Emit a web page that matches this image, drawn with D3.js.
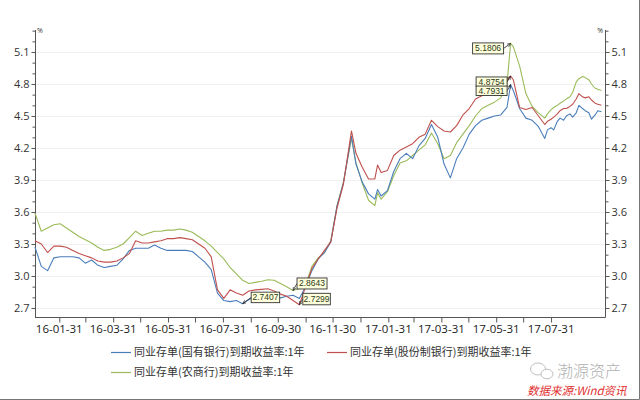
<!DOCTYPE html>
<html><head><meta charset="utf-8">
<script src="https://cdn.jsdelivr.net/npm/d3@7"></script>
<style>
html,body{margin:0;padding:0;background:#fff;}
svg{display:block;font-family:"Open Sans","Noto Sans","Noto Sans CJK SC",sans-serif;}
</style></head><body>
<svg id="chart" width="640" height="400"></svg>
<script>
// ---------- data ----------
const dates = [
"2016-01-04","2016-01-11","2016-01-18","2016-01-25","2016-02-01","2016-02-08","2016-02-15","2016-02-22","2016-02-29","2016-03-07",
"2016-03-14","2016-03-21","2016-03-28","2016-04-04","2016-04-11","2016-04-18","2016-04-25","2016-05-02","2016-05-09","2016-05-16",
"2016-05-23","2016-05-30","2016-06-06","2016-06-13","2016-06-20","2016-06-27","2016-07-04","2016-07-11","2016-07-18","2016-07-25",
"2016-08-01","2016-08-08","2016-08-15","2016-08-22","2016-08-29","2016-09-05","2016-09-12","2016-09-19","2016-09-26","2016-10-03",
"2016-10-10","2016-10-17","2016-10-24","2016-10-31","2016-11-07","2016-11-14","2016-11-21","2016-11-28","2016-12-05","2016-12-12",
"2016-12-21","2016-12-26","2017-01-02","2017-01-09","2017-01-16","2017-01-19","2017-01-23","2017-01-30","2017-02-06","2017-02-13",
"2017-02-20","2017-02-27","2017-03-06","2017-03-13","2017-03-20","2017-03-27","2017-04-03","2017-04-10","2017-04-17","2017-04-24",
"2017-05-01","2017-05-08","2017-05-15","2017-05-22","2017-05-29","2017-06-05","2017-06-12","2017-06-16","2017-06-19","2017-06-26",
"2017-07-03","2017-07-10","2017-07-17","2017-07-24","2017-07-27","2017-07-31","2017-08-03","2017-08-07","2017-08-10","2017-08-14",
"2017-08-17","2017-08-21","2017-08-24","2017-08-28","2017-08-31","2017-09-04","2017-09-07","2017-09-11","2017-09-14","2017-09-18",
"2017-09-21","2017-09-25"];
const greenVals = [
3.59,3.42,3.45,3.48,3.49,3.45,3.41,3.37,3.34,3.31,
3.27,3.24,3.25,3.27,3.30,3.36,3.42,3.38,3.40,3.42,
3.42,3.43,3.43,3.44,3.43,3.41,3.37,3.33,3.28,3.22,
3.16,3.08,3.02,2.96,2.93,2.94,2.95,2.965,2.96,2.93,
2.90,2.8643,2.88,2.92,3.09,3.17,3.22,3.33,3.66,3.88,
4.29,4.06,3.87,3.71,3.66,3.78,3.72,3.79,3.94,4.06,
4.08,4.13,4.18,4.23,4.34,4.24,4.10,4.13,4.25,4.33,
4.41,4.50,4.57,4.60,4.63,4.67,4.80,5.1806,5.15,4.97,
4.71,4.59,4.53,4.48,4.52,4.56,4.58,4.60,4.62,4.64,
4.66,4.68,4.72,4.82,4.85,4.87,4.86,4.84,4.80,4.76,
4.75,4.74];
const redVals = [
3.33,3.30,3.22,3.28,3.28,3.27,3.24,3.21,3.19,3.17,
3.14,3.13,3.13,3.14,3.17,3.21,3.33,3.31,3.31,3.32,
3.33,3.35,3.35,3.36,3.35,3.34,3.30,3.26,3.18,2.87,
2.79,2.87,2.84,2.82,2.86,2.87,2.875,2.88,2.86,2.83,
2.81,2.77,2.7299,2.90,3.07,3.16,3.24,3.32,3.64,3.86,
4.36,4.15,4.02,3.91,3.91,4.04,3.97,3.99,4.13,4.18,
4.21,4.24,4.30,4.33,4.46,4.40,4.36,4.35,4.41,4.51,
4.57,4.66,4.69,4.71,4.76,4.79,4.83,4.8754,4.84,4.58,
4.56,4.58,4.50,4.42,4.45,4.47,4.49,4.52,4.55,4.57,
4.57,4.59,4.61,4.66,4.71,4.68,4.67,4.68,4.65,4.62,
4.61,4.60];
const blueVals = [
3.27,3.09,3.05,3.17,3.18,3.18,3.18,3.17,3.12,3.15,
3.10,3.08,3.09,3.10,3.16,3.24,3.26,3.26,3.26,3.29,
3.26,3.24,3.24,3.24,3.24,3.23,3.18,3.13,3.06,2.84,
2.77,2.76,2.77,2.7407,2.78,2.81,2.82,2.815,2.80,2.795,
2.81,2.82,2.79,2.90,3.05,3.16,3.22,3.32,3.66,3.87,
4.31,4.05,3.88,3.77,3.72,3.81,3.75,3.80,3.98,4.10,
4.15,4.10,4.22,4.29,4.42,4.30,4.05,3.92,4.10,4.20,
4.33,4.41,4.46,4.48,4.50,4.51,4.58,4.7931,4.74,4.57,
4.48,4.46,4.40,4.29,4.37,4.39,4.37,4.45,4.48,4.46,
4.50,4.52,4.49,4.53,4.60,4.57,4.55,4.53,4.47,4.51,
4.55,4.54];
const seriesNames = ["同业存单(国有银行)到期收益率:1年","同业存单(股份制银行)到期收益率:1年","同业存单(农商行)到期收益率:1年"];
const yTickLabels = ["2.7","3.0","3.3","3.6","3.9","4.2","4.5","4.8","5.1"];
const xTickLabels = ["16-01-31","16-03-31","16-05-31","16-07-31","16-09-30","16-11-30","17-01-31","17-03-31","17-05-31","17-07-31"];
const annoDates = ["2017-06-16","2017-06-16","2017-06-16","2016-10-17","2016-08-22","2016-10-24"];
const annoValues = [5.1806,4.8754,4.7931,2.8643,2.7407,2.7299];
const annoSeries = [2,1,0,2,0,1];

// ---------- layout / style ----------
const colors = ["#4a7ebb","#c0504d","#9bbb59"];
const L = 35, R = 605, T = 30, B = 317;
const parse = d3.timeParse("%Y-%m-%d");
const svg = d3.select("#chart");

const x = d3.scaleTime().domain([parse("2016-01-04"), parse("2017-09-29")]).range([L, R]);
const y = d3.scaleLinear().domain([2.6156, 5.3063]).range([B, T]);

const series = [blueVals, redVals, greenVals].map((vals, i) => ({
  name: seriesNames[i], color: colors[i],
  pts: vals.map((v, j) => ({d: parse(dates[j]), v}))
}));

// grid
const yMajor = yTickLabels.map(Number);
svg.append("g").selectAll("line").data(yMajor).join("line")
  .attr("x1", L).attr("x2", R)
  .attr("y1", d => Math.round(y(d)) + 0.5).attr("y2", d => Math.round(y(d)) + 0.5)
  .attr("stroke", "#f0f0f0");

// axes
const fmt = d3.format(".1f");
const minorVals = d3.range(27, 54).map(v => v / 10).filter(v => !yMajor.some(m => Math.abs(m - v) < 1e-6));
const axL = svg.append("g").attr("transform", `translate(${L + 0.5},0)`)
  .call(d3.axisLeft(y).tickValues(yMajor).tickFormat(fmt).tickSize(4).tickPadding(2));
const axR = svg.append("g").attr("transform", `translate(${R + 0.5},0)`)
  .call(d3.axisRight(y).tickValues(yMajor).tickFormat(fmt).tickSize(4).tickPadding(2));
const axLm = svg.append("g").attr("transform", `translate(${L + 0.5},0)`)
  .call(d3.axisLeft(y).tickValues(minorVals).tickFormat("").tickSize(3));
const axRm = svg.append("g").attr("transform", `translate(${R + 0.5},0)`)
  .call(d3.axisRight(y).tickValues(minorVals).tickFormat("").tickSize(3));

const monthEnds = d3.timeMonth.range(new Date(2016, 1, 1), new Date(2017, 8, 1)).map(d => d3.timeDay.offset(d, -1));
const axB = svg.append("g").attr("transform", `translate(0,${B + 0.5})`)
  .call(d3.axisBottom(x).tickValues(monthEnds).tickFormat("").tickSize(5));
const labelDates = xTickLabels.map(s => d3.timeParse("%y-%m-%d")(s));
svg.append("g").selectAll("text").data(labelDates).join("text")
  .attr("x", d => x(d)).attr("y", B + 16)
  .attr("text-anchor", "middle").attr("font-size", 11.5).attr("fill", "#222")
  .text((d, i) => xTickLabels[i]);

[axL, axR, axLm, axRm, axB].forEach(g => {
  g.select(".domain").attr("stroke", "#555");
  g.selectAll(".tick line").attr("stroke", "#555");
  g.selectAll("text").attr("font-size", 11).attr("fill", "#333")
    .attr("font-family", "'Open Sans','Noto Sans',sans-serif");
});
axL.select(".domain").attr("d", `M0,${T}V${B + 0.5}`);
axR.select(".domain").attr("d", `M0,${T}V${B + 0.5}`);
axLm.select(".domain").remove();
axRm.select(".domain").remove();
axB.select(".domain").attr("d", `M${L},0H${R + 0.5}`);

svg.append("text").attr("x", L + 2).attr("y", T + 3).attr("font-size", 7).attr("fill", "#333").text("%");
svg.append("text").attr("x", R - 2).attr("y", T + 3).attr("text-anchor", "end").attr("font-size", 7).attr("fill", "#333").text("%");

// lines
const line = d3.line().x(p => x(p.d)).y(p => y(p.v));
const drawOrder = [2, 0, 1];
svg.append("g").selectAll("path").data(drawOrder.map(i => series[i])).join("path")
  .attr("d", s => line(s.pts)).attr("fill", "none")
  .attr("stroke", s => s.color).attr("stroke-width", 1.1).attr("stroke-linejoin", "round");

// annotations
const defs = svg.append("defs");
defs.append("marker").attr("id", "arr").attr("viewBox", "0 0 6 6").attr("refX", 5.5).attr("refY", 3)
  .attr("markerWidth", 5).attr("markerHeight", 5).attr("orient", "auto")
  .append("path").attr("d", "M0,0.5L5.5,3L0,5.5").attr("fill", "none").attr("stroke", "#222").attr("stroke-width", 0.9);
const annoLayout = [
  {dx: -38, dy: -0.5, w: 31, h: 11},
  {dx: -34.5, dy: 1, w: 31, h: 9.5},
  {dx: -34.5, dy: 1.3, w: 31, h: 9.5},
  {dx: 4, dy: -12.5, w: 30, h: 11},
  {dx: 8.5, dy: -11.5, w: 28.5, h: 10.5},
  {dx: 3.5, dy: -11.5, w: 27.5, h: 11.5}
];
annoValues.forEach((v, i) => {
  const px = x(parse(annoDates[i])), py = y(v), lay = annoLayout[i];
  const bx = px + lay.dx, by = py + lay.dy;
  const g = svg.append("g");
  const ex = lay.dx < 0 ? bx + lay.w : bx;
  g.append("line").attr("x1", ex).attr("y1", by + lay.h / 2).attr("x2", px).attr("y2", py)
    .attr("stroke", "#222").attr("stroke-width", 0.8).attr("marker-end", "url(#arr)");
  g.append("rect").attr("x", bx).attr("y", by).attr("width", lay.w).attr("height", lay.h)
    .attr("fill", "#ffffdc").attr("stroke", "#333").attr("stroke-width", 0.9);
  g.append("text").attr("x", bx + lay.w / 2).attr("y", by + lay.h / 2 + 3)
    .attr("text-anchor", "middle").attr("font-size", 8.5).attr("fill", "#2b3a1a")
    .attr("font-family", "'Liberation Sans',sans-serif").text(v.toFixed(4));
});

// legend
const legendPos = [[111, 352], [327, 352], [111, 372]];
series.forEach((s, i) => {
  const [lx, ly] = legendPos[i];
  svg.append("line").attr("x1", lx).attr("x2", lx + 20).attr("y1", ly + 0.5).attr("y2", ly + 0.5)
    .attr("stroke", s.color).attr("stroke-width", 1.2);
  svg.append("text").attr("x", lx + 23).attr("y", ly + 4).attr("font-size", 11).attr("fill", "#333")
    .attr("font-family", "'Noto Sans CJK SC',sans-serif").text(s.name);
});

// watermark
const wm = svg.append("g").attr("fill", "none").attr("stroke", "#c0c0c0").attr("stroke-width", 1);
wm.append("ellipse").attr("cx", 538).attr("cy", 369).attr("rx", 7.5).attr("ry", 6);
wm.append("ellipse").attr("cx", 547).attr("cy", 374).attr("rx", 6).attr("ry", 4.8).attr("fill", "#fff");
svg.append("text").attr("x", 557).attr("y", 377).attr("font-size", 16).attr("fill", "#b0b0b0")
  .attr("font-weight", 300).attr("font-family", "'Noto Sans CJK SC',sans-serif").text("渤源资产");
svg.append("text").attr("x", 527).attr("y", 395).attr("font-size", 11.5).attr("fill", "#e03030")
  .attr("font-family", "'Noto Sans CJK SC',sans-serif").attr("font-style", "italic").text("数据来源:Wind资讯");

// frame
svg.append("path").attr("d", "M639.5,0V399.5H0").attr("fill", "none").attr("stroke", "#777");
</script>
</body></html>
